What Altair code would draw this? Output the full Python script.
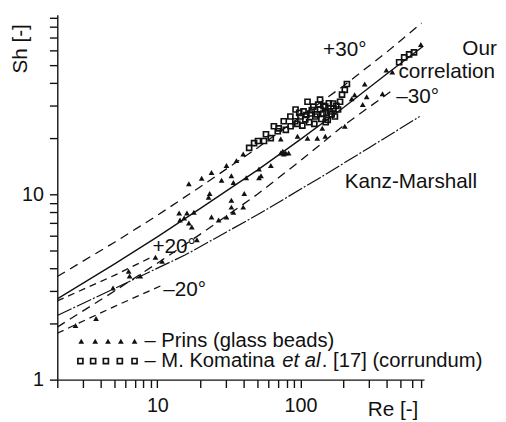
import altair as alt
import pandas as pd

# ---------------- data ----------------
main_re = [2, 5, 10, 20, 50, 100, 200, 400, 720]
main_sh = [2.73, 4.2, 5.9, 8.4, 13.5, 19.8, 29.4, 44.6, 63.0]

plus30_re = [2, 5, 10, 20, 50, 100, 200, 400, 700]
plus30_sh = [3.6, 5.5, 7.7, 11.0, 17.8, 26.2, 38.5, 58.5, 84.0]

minus30_re = [2, 5, 10, 20, 50, 100, 200, 440]
minus30_sh = [1.92, 3.0, 4.25, 6.1, 10.0, 15.2, 23.5, 36.5]

kanz_re = [2, 5, 15.6, 50, 137, 300, 680]
kanz_sh = [2.22, 3.1, 4.7, 7.75, 12.3, 17.8, 26.3]

kanz_p20_re = [2, 5, 9.2]
kanz_p20_sh = [2.66, 3.65, 4.6]

kanz_m20_re = [2, 5, 10.5]
kanz_m20_sh = [1.78, 2.48, 3.2]

prins_re = [2.68, 3.73, 4.9, 6.3, 6.4, 7.6, 9.7, 10.8, 14.2, 15.4, 16.6, 16.1, 17.4,
            14.4, 18.0, 18.9, 22.8, 23.2, 20.4, 23.9, 16.6, 28.1, 30.4, 32.9, 34.0,
            35.7, 39.8, 41.8, 51.3, 53.0, 32.9, 40.5, 39.8, 34.0, 30.4, 26.8, 32.9,
            23.9, 51.3, 62.1, 72.8, 76.4, 75.2, 78.9, 82.6, 72.8, 95.3, 112, 131,
            149, 142, 204, 228, 239, 272, 290, 374, 398, 438, 281, 693]
prins_sh = [1.96, 2.14, 3.12, 3.85, 3.62, 3.62, 4.57, 4.35, 7.93, 7.45, 7.0, 7.93, 6.67,
            7.27, 8.0, 5.69, 9.64, 10.1, 12.2, 13.1, 11.4, 11.9, 14.3, 12.6, 11.6,
            15.2, 16.5, 12.3, 13.7, 12.6, 9.3, 10.1, 8.53, 8.0, 7.55, 7.27, 8.53,
            7.55, 12.3, 14.3, 16.7, 16.5, 17.1, 16.7, 16.7, 19.9, 20.6, 20.1, 20.1,
            20.6, 22.7, 23.3, 32.8, 34.5, 30.5, 33.6, 34.9, 46.8, 45.7, 39.4, 64.4]

kom_re = [43.8, 47.4, 50.5, 55.6, 57.4, 62, 65.2, 69.4, 70.5, 76.4, 79, 85, 85.3, 92,
          92.4, 95, 98, 100, 103, 105, 108, 110, 112, 115, 117, 120, 123, 125, 127,
          130, 133, 137, 137, 140, 144, 145, 149, 150, 152, 155, 158, 161, 165, 169,
          170, 174, 178, 183, 189, 195, 204, 211, 489, 530, 574, 621]
kom_sh = [17.8, 18.9, 19.4, 19.4, 21.1, 20.1, 23.3, 21.9, 22.7, 24.8, 22.3, 26.3, 23.3,
          24.8, 28.7, 24.0, 27.5, 26.3, 23.5, 28.0, 25.4, 26.8, 31.6, 24.5, 27.3,
          28.5, 29.7, 24.0, 26.3, 27.0, 30.5, 28.7, 32.4, 25.5, 27.3, 30.0, 29.7,
          24.5, 27.5, 25.2, 31.0, 28.0, 27.0, 30.9, 29.0, 26.3, 30.0, 28.7, 31.6,
          34.5, 36.6, 39.4, 51.6, 54.8, 56.9, 58.3]

legend_tri_re = [2.94, 3.68, 4.52, 5.56, 6.93]
legend_sq_re = [2.90, 3.56, 4.37, 5.47, 6.93]
legend_tri_sh = 1.61
legend_sq_sh = 1.26

x_ticks = [2, 3, 4, 5, 6, 7, 8, 9, 10, 20, 30, 40, 50, 60, 70, 80, 90,
           100, 200, 300, 400, 500, 600, 700]
y_ticks = [1, 2, 3, 4, 5, 6, 7, 8, 9, 10, 20, 30, 40, 50, 60, 70, 80, 90]

FONT = "Liberation Sans"
INK = "#111111"

# ---------------- encodings ----------------
xs = alt.Scale(type="log", domain=[2, 730], nice=False, zero=False)
ys = alt.Scale(type="log", domain=[1, 93], nice=False, zero=False)

x_axis = alt.Axis(values=x_ticks, grid=False, domainColor=INK, domainWidth=1.4,
                  tickColor=INK, tickWidth=1.4, tickSize=8, labelPadding=8,
                  labelFont=FONT, labelFontSize=20, labelColor=INK,
                  labelOverlap=False, labelFlush=False,
                  labelExpr="(datum.value == 10 || datum.value == 100) ? format(datum.value, 'd') : ''",
                  title="Re [-]", titleFont=FONT, titleFontSize=21, titleFontWeight="normal",
                  titleColor=INK, titleX=340, titleY=30, titleAlign="center",
                  titleBaseline="middle", titleAngle=0)
y_axis = alt.Axis(values=y_ticks, grid=False, domainColor=INK, domainWidth=1.4,
                  tickColor=INK, tickWidth=1.4, tickSize=8, labelPadding=6,
                  labelFont=FONT, labelFontSize=20, labelColor=INK,
                  labelOverlap=False, labelFlush=False,
                  labelExpr="(datum.value == 1 || datum.value == 10) ? format(datum.value, 'd') : ''",
                  title="Sh [-]", titleFont=FONT, titleFontSize=21, titleFontWeight="normal",
                  titleColor=INK, titleX=-37, titleY=34, titleAngle=270,
                  titleAlign="center", titleBaseline="middle")

X = alt.X("re:Q", scale=xs, axis=x_axis)
Y = alt.Y("sh:Q", scale=ys, axis=y_axis)


def line_layer(re, sh, dash, width=1.3):
    df = pd.DataFrame({"re": re, "sh": sh})
    kw = dict(color=INK, strokeWidth=width, clip=True)
    if dash:
        kw["strokeDash"] = dash
    return alt.Chart(df).mark_line(**kw).encode(x=X, y=Y)


layers = [
    line_layer(main_re, main_sh, None, 1.4),
    line_layer(plus30_re, plus30_sh, [9, 6]),
    line_layer(minus30_re, minus30_sh, [9, 6]),
    line_layer(kanz_re, kanz_sh, [16, 2, 2, 2], 1.2),
    line_layer(kanz_p20_re, kanz_p20_sh, [7, 5]),
    line_layer(kanz_m20_re, kanz_m20_sh, [7, 5]),
]

prins_df = pd.DataFrame({"re": prins_re, "sh": prins_sh})
kom_df = pd.DataFrame({"re": kom_re, "sh": kom_sh})
sq_style = dict(shape="square", size=26, filled=False, color=INK, strokeWidth=1.7, opacity=1)
tri_style = dict(shape="triangle-up", size=34, filled=True, color=INK, opacity=1)
layers.append(alt.Chart(kom_df).mark_point(**sq_style).encode(x=X, y=Y))
layers.append(alt.Chart(prins_df).mark_point(**tri_style).encode(x=X, y=Y))

# legend symbols
leg_tri = pd.DataFrame({"re": legend_tri_re, "sh": [legend_tri_sh] * len(legend_tri_re)})
leg_sq = pd.DataFrame({"re": legend_sq_re, "sh": [legend_sq_sh] * len(legend_sq_re)})
layers.append(alt.Chart(leg_tri).mark_point(**tri_style).encode(x=X, y=Y))
layers.append(alt.Chart(leg_sq).mark_point(**sq_style).encode(x=X, y=Y))

# text annotations
left_txt = pd.DataFrame({
    "re": [467, 204, 9.24, 10.99],
    "sh": [33.6, 11.6, 5.16, 3.05],
    "t": ["–30°", "Kanz-Marshall", "+20°", "–20°"],
})
legend_txt = pd.DataFrame({
    "re": [8.13, 8.13, 141],
    "sh": [1.61, 1.26, 1.26],
    "t": ["– Prins (glass beads)", "– M. Komatina", ". [17] (corrundum)"],
})
italic_txt = pd.DataFrame({"re": [74.5], "sh": [1.26], "t": ["et al"]})
center_txt = pd.DataFrame({"re": [204], "sh": [59.8], "t": ["+30°"]})
right_txt = pd.DataFrame({"re": [2355, 2286], "sh": [60.5, 45.7], "t": ["Our", "correlation"]})

tk = dict(font=FONT, fontSize=21, color=INK, baseline="middle")
lk = dict(font=FONT, fontSize=20.5, color=INK, baseline="middle")
layers.append(alt.Chart(left_txt).mark_text(align="left", **tk).encode(x=X, y=Y, text="t:N"))
layers.append(alt.Chart(legend_txt).mark_text(align="left", **lk).encode(x=X, y=Y, text="t:N"))
layers.append(alt.Chart(italic_txt).mark_text(align="left", fontStyle="italic", **lk)
              .encode(x=X, y=Y, text="t:N"))
layers.append(alt.Chart(center_txt).mark_text(align="center", **tk).encode(x=X, y=Y, text="t:N"))
layers.append(alt.Chart(right_txt).mark_text(align="right", **tk).encode(x=X, y=Y, text="t:N"))

chart = alt.layer(*layers).properties(
    width=372, height=370,
    autosize=alt.AutoSizeParams(type="none"),
    padding={"left": 50, "top": 4, "right": 75, "bottom": 40},
    background="white",
).configure_view(strokeWidth=0)

chart.save("out.html", embed_options={"renderer": "svg", "actions": False})
